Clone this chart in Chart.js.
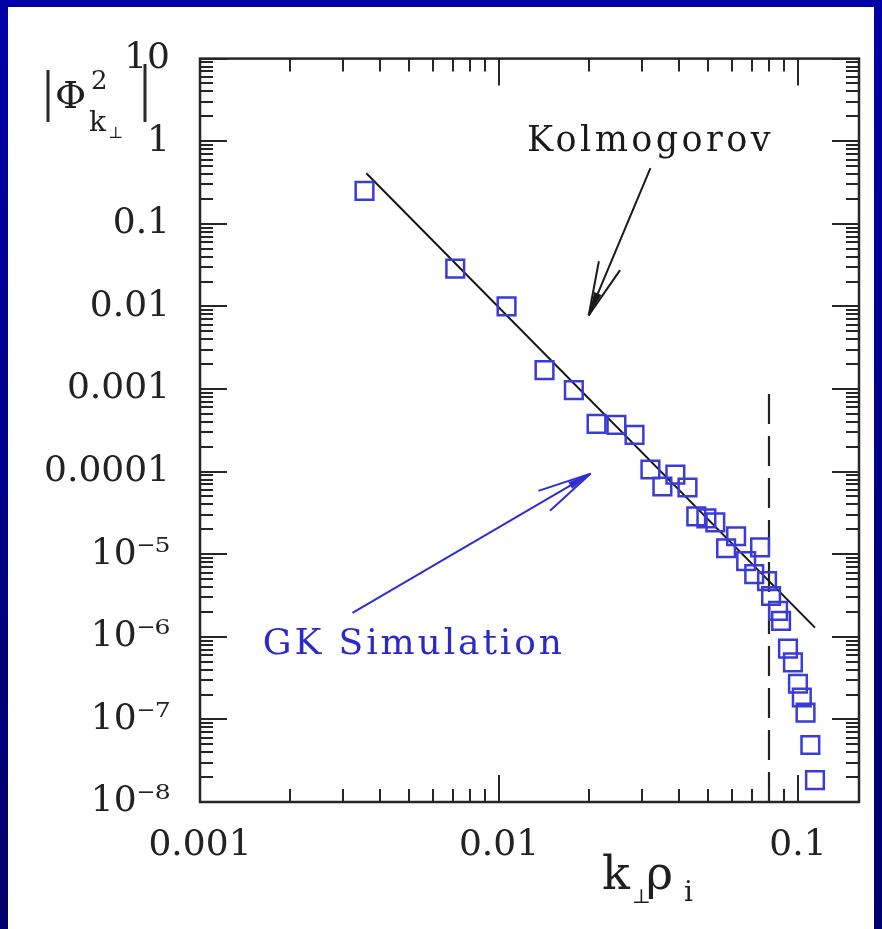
<!DOCTYPE html>
<html>
<head>
<meta charset="utf-8">
<script src="https://cdn.jsdelivr.net/npm/chart.js@4.4.1/dist/chart.umd.min.js"></script>
<style>
html,body{margin:0;padding:0;}
body{width:882px;height:929px;overflow:hidden;position:relative;background:linear-gradient(#0000a6,#00006c);}
#panel{position:absolute;left:8px;top:7px;width:866px;height:922px;background:#fff;}
</style>
</head>
<body>
<div id="panel"><canvas id="spec" width="866" height="922"></canvas></div>
<script>
// ---------- values ----------
const kPerp = [0.00355, 0.00714, 0.0106, 0.0142, 0.0178, 0.0212, 0.0247, 0.0284, 0.0321, 0.0352,
  0.0389, 0.0427, 0.0457, 0.0494, 0.0529, 0.0575, 0.0621, 0.0671, 0.0714, 0.0747,
  0.0788, 0.0813, 0.0858, 0.0878, 0.0926, 0.0962, 0.100, 0.103, 0.106, 0.110, 0.114];
const phi2 = [0.25, 0.0287, 0.0100, 0.00169, 0.00097, 0.000379, 0.000368, 0.000279, 0.000106, 0.000066,
  0.000092, 0.0000642, 0.0000287, 0.0000272, 0.0000243, 0.0000118, 0.0000165, 0.00000824, 0.00000574, 0.0000121,
  0.00000473, 0.00000312, 0.00000206, 0.00000156, 7.2e-7, 4.9e-7, 2.7e-7, 1.84e-7, 1.21e-7, 4.9e-8, 1.84e-8];
// k^(-11/3) reference line, drawn between its two end points
const kolX = [0.0036, 0.114];
const kolY = [0.41, 1.29e-6];
// dashed cut-off
const cutX = [0.08, 0.08];
const cutY = [1e-8, 1e-3];

const xTickVals = [0.001, 0.01, 0.1];
const xTickLabels = ['0.001', '0.01', '0.1'];
const yTickVals = [1e-8, 1e-7, 1e-6, 1e-5, 1e-4, 1e-3, 1e-2, 1e-1, 1, 10];
const yTickLabels = ['10⁻⁸', '10⁻⁷', '10⁻⁶', '10⁻⁵', '0.0001', '0.001', '0.01', '0.1', '1', '10'];

// annotations in data coordinates
const kolArrow = {from: [0.0321, 0.473], to: [0.01995, 0.0078]};
const gkArrow = {from: [0.003236, 1.95e-6], to: [0.02026, 9.46e-5]};
const kolText = {text: 'Kolmogorov', at: [0.0124, 0.758]};
const gkText = {text: 'GK Simulation', at: [0.001622, 6.24e-7]};

const points = (xs, ys) => xs.map((x, i) => ({x, y: ys[i]}));
const SERIF = '"DejaVu Serif", "Liberation Serif", serif';

// ---------- helpers ----------
function spacedText(ctx, s, x, y, w) {
  ctx.letterSpacing = '0px';
  const nat = ctx.measureText(s).width;
  ctx.letterSpacing = Math.max(0, (w - nat) / s.length) + 'px';
  ctx.fillText(s, x, y);
  ctx.letterSpacing = '0px';
}
function arrow(ctx, x0, y0, x1, y1, color) {
  const ang = Math.atan2(y1 - y0, x1 - x0);
  ctx.strokeStyle = color; ctx.fillStyle = color; ctx.lineWidth = 2;
  ctx.beginPath(); ctx.moveTo(x0, y0); ctx.lineTo(x1, y1); ctx.stroke();
  [-0.21, 0.21].forEach(da => {
    ctx.beginPath(); ctx.moveTo(x1, y1);
    ctx.lineTo(x1 - 55 * Math.cos(ang + da), y1 - 55 * Math.sin(ang + da));
    ctx.stroke();
  });
  ctx.beginPath(); ctx.moveTo(x1, y1);
  ctx.lineTo(x1 - 24 * Math.cos(ang + 0.16), y1 - 24 * Math.sin(ang + 0.16));
  ctx.lineTo(x1 - 24 * Math.cos(ang - 0.16), y1 - 24 * Math.sin(ang - 0.16));
  ctx.closePath(); ctx.fill();
}

// frame with inward ticks on all four sides
const frameTicks = {
  id: 'frameTicks',
  afterDatasetsDraw(chart) {
    const {ctx, chartArea: a, scales: {x, y}} = chart;
    ctx.save();
    ctx.strokeStyle = '#262626'; ctx.lineWidth = 2.5;
    ctx.strokeRect(a.left, a.top, a.right - a.left, a.bottom - a.top);
    ctx.lineWidth = 2;
    ctx.beginPath();
    for (let d = -3; d <= -1; d++) for (let m = 1; m <= 9; m++) {
      const v = m * Math.pow(10, d);
      if (v < x.min || v > x.max) continue;
      const p = Math.round(x.getPixelForValue(v)), len = m === 1 ? 27 : 13;
      ctx.moveTo(p, a.bottom); ctx.lineTo(p, a.bottom - len);
      ctx.moveTo(p, a.top); ctx.lineTo(p, a.top + len);
    }
    for (let d = -8; d <= 1; d++) for (let m = 1; m <= 9; m++) {
      const v = m * Math.pow(10, d);
      if (v < y.min * 0.999 || v > y.max * 1.001) continue;
      const p = Math.round(y.getPixelForValue(v)), len = m === 1 ? 27 : 13;
      ctx.moveTo(a.left, p); ctx.lineTo(a.left + len, p);
      ctx.moveTo(a.right, p); ctx.lineTo(a.right - len, p);
    }
    ctx.stroke();
    ctx.restore();
  }
};

// arrows + labels inside the plot
const notes = {
  id: 'notes',
  afterDraw(chart) {
    const {ctx, scales: {x, y}} = chart;
    const px = p => [x.getPixelForValue(p[0]), y.getPixelForValue(p[1])];
    ctx.save();
    let a = px(kolArrow.from), b = px(kolArrow.to);
    arrow(ctx, a[0], a[1], b[0], b[1], '#1a1a1a');
    a = px(gkArrow.from); b = px(gkArrow.to);
    arrow(ctx, a[0], a[1], b[0], b[1], '#2f2fd0');
    ctx.textBaseline = 'alphabetic'; ctx.textAlign = 'left';
    ctx.font = '35px ' + SERIF; ctx.fillStyle = '#1a1a1a';
    let t = px(kolText.at); spacedText(ctx, kolText.text, t[0], t[1], 247);
    ctx.font = '36px ' + SERIF; ctx.fillStyle = '#2a2ac8';
    t = px(gkText.at); spacedText(ctx, gkText.text, t[0], t[1], 302);
    ctx.restore();
  }
};

// axis titles |Phi^2_{k_perp}| and k_perp rho_i
const titles = {
  id: 'titles',
  afterDraw(chart) {
    const ctx = chart.ctx;
    ctx.save();
    ctx.fillStyle = '#1f1f1f'; ctx.strokeStyle = '#2a2a2a'; ctx.lineWidth = 3;
    ctx.textAlign = 'left'; ctx.textBaseline = 'alphabetic';
    ctx.beginPath(); ctx.moveTo(40, 63); ctx.lineTo(40, 115); ctx.moveTo(137, 57); ctx.lineTo(137, 115); ctx.stroke();
    ctx.font = '38px ' + SERIF; ctx.fillText('Φ', 47, 101);
    ctx.font = '26px ' + SERIF; ctx.fillText('2', 83, 82);
    ctx.font = '28px ' + SERIF; ctx.fillText('k', 81, 124);
    ctx.font = '16px ' + SERIF; ctx.fillText('⊥', 100, 131);
    // x title
    ctx.font = '46px ' + SERIF; ctx.fillText('k', 594, 882);
    ctx.font = '20px ' + SERIF; ctx.fillText('⊥', 624, 896);
    ctx.font = '46px ' + SERIF; ctx.fillText('ρ', 638, 882);
    ctx.font = '28px ' + SERIF; ctx.fillText('i', 676, 894);
    ctx.restore();
  }
};

new Chart(document.getElementById('spec'), {
  type: 'scatter',
  data: {datasets: [
    {label: 'GK Simulation', data: points(kPerp, phi2), pointStyle: 'rect', pointRadius: 12.5,
     borderColor: '#3b3bd8', borderWidth: 2.5, backgroundColor: 'rgba(0,0,0,0)'},
    {label: 'Kolmogorov', data: points(kolX, kolY), showLine: true, borderColor: '#151515', borderWidth: 2, pointRadius: 0},
    {label: 'cutoff', data: points(cutX, cutY), showLine: true, borderColor: '#222', borderWidth: 2.2,
     borderDash: [30, 12], pointRadius: 0}
  ]},
  options: {
    animation: false, responsive: false, events: [],
    layout: {padding: {top: 48, right: 13, left: 0, bottom: 0}},
    plugins: {legend: {display: false}, tooltip: {enabled: false}},
    scales: {
      x: {type: 'logarithmic', min: 0.001, max: 0.16,
          grid: {display: false, drawTicks: false}, border: {display: false},
          afterBuildTicks: s => { s.ticks = xTickVals.map(v => ({value: v})); },
          afterFit: s => { s.height = 127; },
          ticks: {padding: 22, autoSkip: false, maxRotation: 0, color: '#222',
                  font: {family: SERIF, size: 36}, callback: (v, i) => xTickLabels[i]}},
      y: {type: 'logarithmic', min: 1e-8, max: 10,
          grid: {display: false, drawTicks: false}, border: {display: false},
          afterBuildTicks: s => { s.ticks = yTickVals.map(v => ({value: v})); },
          afterFit: s => { s.width = 192; },
          ticks: {padding: 30, autoSkip: false, color: '#222',
                  font: {family: SERIF, size: 36}, callback: (v, i) => yTickLabels[i]}}
    }
  },
  plugins: [frameTicks, notes, titles]
});
</script>
</body>
</html>
